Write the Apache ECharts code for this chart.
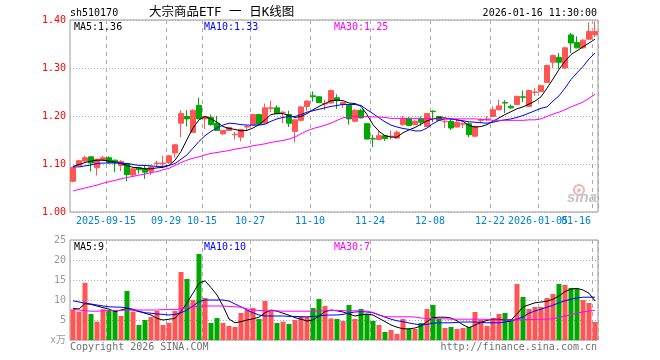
<!DOCTYPE html>
<html><head><meta charset="utf-8">
<script src="https://cdn.jsdelivr.net/npm/echarts@6/dist/echarts.min.js"></script>
<style>html,body{margin:0;padding:0;background:#fff}#c{width:660px;height:360px}</style>
</head><body><div id="c"></div>
<script>
const dates = [
'2025-09-05','2025-09-08','2025-09-09','2025-09-10','2025-09-11','2025-09-12','2025-09-15','2025-09-16','2025-09-17','2025-09-18',
'2025-09-19','2025-09-22','2025-09-23','2025-09-24','2025-09-25','2025-09-26','2025-09-29','2025-09-30','2025-10-09','2025-10-10',
'2025-10-13','2025-10-14','2025-10-15','2025-10-16','2025-10-17','2025-10-20','2025-10-21','2025-10-22','2025-10-23','2025-10-24',
'2025-10-27','2025-10-28','2025-10-29','2025-10-30','2025-10-31','2025-11-03','2025-11-04','2025-11-05','2025-11-06','2025-11-07',
'2025-11-10','2025-11-11','2025-11-12','2025-11-13','2025-11-14','2025-11-17','2025-11-18','2025-11-19','2025-11-20','2025-11-21',
'2025-11-24','2025-11-25','2025-11-26','2025-11-27','2025-11-28','2025-12-01','2025-12-02','2025-12-03','2025-12-04','2025-12-05',
'2025-12-08','2025-12-09','2025-12-10','2025-12-11','2025-12-12','2025-12-15','2025-12-16','2025-12-17','2025-12-18','2025-12-19',
'2025-12-22','2025-12-23','2025-12-24','2025-12-25','2025-12-26','2025-12-29','2025-12-30','2025-12-31','2026-01-05','2026-01-06',
'2026-01-07','2026-01-08','2026-01-09','2026-01-12','2026-01-13','2026-01-14','2026-01-15','2026-01-16'];

const open = [1.064,1.097,1.106,1.115,1.092,1.108,1.113,1.108,1.097,1.101, 1.077,1.092,1.090,1.085,1.101,1.101,1.103,1.123,1.185,1.199,
1.166,1.222,1.194,1.197,1.185,1.163,1.170,1.161,1.156,1.177, 1.182,1.203,1.185,1.216,1.217,1.207,1.203,1.168,1.191,1.220,
1.242,1.240,1.225,1.227,1.238,1.224,1.222,1.189,1.212,1.184, 1.153,1.151,1.159,1.157,1.154,1.182,1.195,1.182,1.194,1.178,
1.210,1.199,1.188,1.189,1.177,1.183,1.184,1.158,1.191,1.193, 1.199,1.213,1.228,1.220,1.224,1.240,1.220,1.249,1.251,1.270,
1.312,1.322,1.300,1.369,1.353,1.342,1.360,1.369];
const close = [1.093,1.107,1.113,1.102,1.110,1.113,1.103,1.103,1.105,1.078, 1.090,1.088,1.083,1.094,1.102,1.102,1.117,1.140,1.205,1.194,
1.212,1.194,1.199,1.182,1.170,1.170,1.176,1.162,1.172,1.178, 1.203,1.183,1.217,1.217,1.205,1.208,1.185,1.192,1.219,1.231,
1.240,1.228,1.226,1.253,1.232,1.228,1.194,1.212,1.196,1.152, 1.152,1.159,1.153,1.158,1.166,1.195,1.180,1.189,1.187,1.205,
1.209,1.191,1.189,1.175,1.187,1.184,1.161,1.178,1.192,1.194, 1.213,1.221,1.227,1.217,1.241,1.239,1.253,1.250,1.263,1.305,
1.326,1.312,1.342,1.352,1.342,1.358,1.376,1.376];
const low = [1.062,1.095,1.103,1.085,1.076,1.107,1.101,1.083,1.085,1.064, 1.075,1.080,1.069,1.077,1.095,1.095,1.100,1.113,1.156,1.178,
1.165,1.194,1.173,1.180,1.169,1.160,1.168,1.151,1.147,1.168, 1.181,1.182,1.184,1.208,1.204,1.185,1.177,1.145,1.189,1.211,
1.230,1.227,1.212,1.226,1.215,1.217,1.182,1.187,1.195,1.151, 1.135,1.150,1.148,1.151,1.152,1.180,1.179,1.181,1.180,1.177,
1.187,1.190,1.175,1.171,1.176,1.175,1.156,1.156,1.187,1.189, 1.198,1.212,1.206,1.215,1.223,1.229,1.219,1.242,1.250,1.269,
1.300,1.298,1.298,1.331,1.341,1.340,1.359,1.365];
const high = [1.095,1.109,1.117,1.116,1.111,1.117,1.116,1.109,1.108,1.102, 1.091,1.094,1.097,1.096,1.107,1.117,1.119,1.141,1.212,1.212,
1.214,1.238,1.200,1.203,1.200,1.171,1.178,1.167,1.173,1.182, 1.204,1.204,1.226,1.232,1.222,1.210,1.211,1.193,1.221,1.233,
1.251,1.241,1.234,1.255,1.245,1.230,1.223,1.214,1.215,1.185, 1.161,1.170,1.160,1.170,1.170,1.200,1.198,1.192,1.199,1.206,
1.212,1.200,1.192,1.194,1.194,1.187,1.187,1.180,1.195,1.200, 1.220,1.234,1.233,1.224,1.242,1.253,1.255,1.258,1.265,1.307,
1.328,1.331,1.344,1.373,1.366,1.360,1.395,1.397];

const ma5 = [1.095,1.099,1.103,1.106,1.108,1.108,1.106,1.104,1.101,1.097, 1.093,1.092,1.090,1.090,1.092,1.093,1.097,1.108,1.126,1.151,
1.175,1.192,1.199,1.194,1.187,1.178,1.174,1.172,1.169,1.170, 1.175,1.182,1.192,1.203,1.205,1.205,1.201,1.197,1.199,1.205,
1.213,1.220,1.226,1.232,1.233,1.232,1.227,1.226,1.220,1.203, 1.182,1.168,1.159,1.156,1.156,1.165,1.171,1.176,1.183,1.190,
1.194,1.196,1.196,1.194,1.192,1.189,1.180,1.177,1.178,1.182, 1.189,1.196,1.203,1.209,1.215,1.219,1.225,1.231,1.240,1.258,
1.277,1.297,1.314,1.328,1.336,1.344,1.352,1.360];
const ma10 = [1.094,1.094,1.096,1.098,1.101,1.102,1.102,1.102,1.102,1.101, 1.099,1.097,1.097,1.096,1.095,1.095,1.097,1.101,1.110,1.119,
1.133,1.147,1.159,1.168,1.175,1.181,1.185,1.184,1.182,1.181, 1.181,1.181,1.183,1.189,1.194,1.197,1.199,1.199,1.203,1.208,
1.211,1.214,1.217,1.220,1.222,1.224,1.224,1.224,1.222,1.213, 1.205,1.196,1.188,1.181,1.177,1.174,1.172,1.169,1.169,1.175,
1.184,1.191,1.194,1.194,1.192,1.190,1.188,1.187,1.186,1.185, 1.187,1.190,1.192,1.194,1.197,1.201,1.206,1.211,1.216,1.219,
1.231,1.242,1.258,1.276,1.290,1.303,1.319,1.331];
const ma30 = [1.044,1.047,1.050,1.053,1.056,1.060,1.063,1.066,1.069,1.072, 1.074,1.077,1.079,1.082,1.084,1.088,1.091,1.097,1.103,1.108,
1.112,1.115,1.119,1.122,1.124,1.126,1.128,1.131,1.133,1.135, 1.138,1.140,1.142,1.145,1.147,1.149,1.152,1.156,1.163,1.169,
1.174,1.177,1.181,1.185,1.191,1.196,1.199,1.199,1.199,1.199, 1.198,1.198,1.197,1.195,1.195,1.195,1.195,1.195,1.195,1.195,
1.194,1.194,1.194,1.194,1.194,1.194,1.194,1.194,1.193,1.192, 1.191,1.191,1.191,1.191,1.191,1.191,1.192,1.192,1.194,1.199,
1.204,1.208,1.213,1.219,1.224,1.229,1.237,1.245];

const vol = [7.7,7.1,14.3,6.5,4.6,7.7,7.5,7.25,6.0,12.25, 7.1,3.75,5.0,5.75,7.25,3.75,4.3,7.25,17.0,15.25,
10.0,21.5,10.5,4.25,5.5,4.25,3.5,3.25,6.75,7.5, 8.0,5.25,9.75,7.25,4.25,4.6,4.0,5.0,6.0,5.75,
8.0,10.25,8.5,5.4,5.25,4.75,8.75,5.25,7.75,6.5, 4.75,3.75,2.0,2.5,1.5,5.25,2.75,2.75,4.25,7.75,
8.75,5.25,3.0,3.25,2.75,3.0,3.25,7.0,5.0,3.5, 5.5,6.5,6.75,5.25,14.0,10.75,7.75,8.25,8.25,10.5,
11.5,14.0,13.75,13.0,12.75,10.0,9.25,4.5];
const vma5 = [7.9,7.75,9.1,8.9,8.5,8.1,7.7,7.1,7.5,7.9, 7.5,7.1,6.7,6.25,5.4,5.0,5.2,5.4,7.1,9.3,
11.7,14.2,14.8,13.1,11.25,8.5,5.25,4.3,4.6,5.0, 5.3,5.7,6.8,7.5,7.2,6.7,6.2,5.6,5.2,4.75,
5.0,6.0,7.1,7.5,7.3,7.0,6.5,6.0,6.3,6.5, 6.25,5.4,4.6,3.75,3.2,2.8,2.8,3.0,3.5,4.6,
5.6,5.7,5.7,5.5,4.8,3.8,3.1,3.7,4.4,4.9, 5.2,5.2,5.0,5.0,6.5,8.3,8.8,9.3,9.5,9.7,
10.2,11.0,12.1,12.75,12.9,12.5,11.7,9.75];
const vma10 = [9.8,9.5,9.2,9.0,8.75,8.5,8.3,8.25,8.2,8.0, 7.7,7.2,6.8,6.7,6.5,6.4,6.25,6.4,6.8,7.5,
8.5,9.6,10.0,10.0,10.0,10.0,9.75,9.0,8.3,7.5, 6.8,6.25,6.0,6.0,6.0,6.0,5.9,5.9,5.8,5.8,
5.9,6.0,6.2,6.25,6.25,6.4,6.75,7.0,7.1,7.0, 6.8,6.25,5.7,5.2,4.8,4.6,4.25,4.0,3.75,3.9,
4.2,4.3,4.3,4.3,4.4,4.5,4.5,4.5,4.4,4.3, 4.3,4.3,4.5,4.75,5.2,5.8,6.7,7.25,7.7,8.2,
8.7,9.3,9.8,10.2,10.5,10.7,10.7,10.7];
const vma30 = [7.7,7.5,7.3,7.2,7.2,7.3,7.4,7.4,7.4,7.5, 7.5,7.5,7.5,7.5,7.5,7.6,7.6,7.6,7.8,8.1,
8.3,8.4,8.5,8.5,8.5,8.5,8.4,8.3,8.2,7.8, 7.5,7.4,7.3,7.3,7.3,7.2,7.2,7.2,7.2,7.2,
7.2,7.25,7.3,7.35,7.4,7.35,7.3,7.3,7.3,7.2, 6.9,6.3,5.85,5.8,5.8,5.8,5.8,5.75,5.5,5.4,
5.4,5.3,5.3,5.2,5.2,5.2,5.2,5.2,5.2,5.15, 5.0,5.0,5.0,5.0,5.0,5.1,5.1,5.15,5.2,5.2,
5.3,5.7,6.0,6.3,6.7,7.0,7.25,7.4];

const tickDates = ['2025-09-15','2025-09-29','2025-10-15','2025-10-27','2025-11-10','2025-11-24','2025-12-08','2025-12-22','2026-01-05','2026-01-16'];
const tickLabels = ['2025-09-15','09-29','10-15','10-27','11-10','11-24','12-08','12-22','2026-01-05','01-16'];
const priceTicks = [1.0, 1.4, 0.1];
const volTicks = [0, 25, 5];

const title = 'sh510170';
const titleName = '大宗商品ETF 一 日K线图';
const timeStamp = '2026-01-16 11:30:00';
const priceMaLabels = ['MA5:1.36', 'MA10:1.33', 'MA30:1.25'];
const volMaLabels = ['MA5:9', 'MA10:10', 'MA30:7'];

const MONO = '"DejaVu Sans Mono", "Noto Sans CJK SC", monospace';
const RED = '#ff5555', GREEN = '#00a800';
const MA_COLORS = ['#000000', '#0000ff', '#ff00ff'];
const tickSet = new Set(tickDates.map(d => dates.indexOf(d)));
const isTick = (i) => tickSet.has(i);
const lastIdx = dates.length - 1;

const splitV = {show: true, interval: (i) => isTick(i), lineStyle: {color: '#aaaaaa', width: 1, type: [4, 4]}};
const splitH = {show: true, lineStyle: {color: '#aaaaaa', width: 1, type: [1, 2]}};

function txt(text, x, y, color, font, align) {
  return {type: 'text', silent: true, z: 100,
    style: {text: text, x: x, y: y, fill: color, font: font,
      align: align || 'left', textAlign: align || 'left', verticalAlign: 'middle', textVerticalAlign: 'middle'}};
}

const lineSeries = (data, color, xi, yi) => ({type: 'line', data: data, xAxisIndex: xi, yAxisIndex: yi,
  symbol: 'none', smooth: false, lineStyle: {color: color, width: 1}, itemStyle: {color: color}, z: 5, silent: true});

const labelRich = {
  a: {padding: [0, 6, 0, 0], color: '#0082d2', fontFamily: MONO, fontSize: 10},
  b: {padding: [0, 38, 0, 0], color: '#0082d2', fontFamily: MONO, fontSize: 10}
};
const labelFormatter = (v) => {
  const k = tickDates.indexOf(v);
  if (k < 0) return '';
  return (dates.indexOf(v) === lastIdx ? '{b|' : '{a|') + tickLabels[k] + '}';
};

const option = {
  animation: false,
  backgroundColor: '#ffffff',
  grid: [
    {left: 70, top: 20, width: 528, height: 192, show: true, borderColor: '#999999', borderWidth: 1, backgroundColor: 'transparent'},
    {left: 70, top: 240, width: 528, height: 100, show: true, borderColor: '#999999', borderWidth: 1, backgroundColor: 'transparent'}
  ],
  xAxis: [
    {type: 'category', gridIndex: 0, position: 'bottom', data: dates, boundaryGap: true,
      axisLine: {show: false}, axisTick: {show: false},
      axisLabel: {show: true, interval: (i) => isTick(i) && i !== lastIdx,
        margin: 4, color: '#0082d2', fontFamily: MONO, fontSize: 10, formatter: labelFormatter, rich: labelRich},
      splitLine: splitV},
    {type: 'category', gridIndex: 1, position: 'bottom', data: dates, boundaryGap: true,
      axisLine: {show: false}, axisTick: {show: false}, axisLabel: {show: false},
      splitLine: splitV},
    {type: 'category', gridIndex: 0, position: 'bottom', data: dates, boundaryGap: true,
      axisLine: {show: false}, axisTick: {show: false}, splitLine: {show: false},
      axisLabel: {show: true, interval: (i) => i === lastIdx, showMaxLabel: true,
        margin: 4, color: '#0082d2', fontFamily: MONO, fontSize: 10, formatter: labelFormatter, rich: labelRich}}
  ],
  yAxis: [
    {type: 'value', gridIndex: 0, min: priceTicks[0], max: priceTicks[1], interval: priceTicks[2],
      axisLine: {show: false}, axisTick: {show: false},
      axisLabel: {color: '#ff0000', fontFamily: MONO, fontSize: 10, margin: 4, formatter: v => v.toFixed(2)},
      splitLine: splitH},
    {type: 'value', gridIndex: 1, min: volTicks[0], max: volTicks[1], interval: volTicks[2],
      axisLine: {show: false}, axisTick: {show: false},
      axisLabel: {color: '#999999', fontFamily: MONO, fontSize: 10, margin: 4, formatter: v => (v === 0 ? 'x万' : String(v))},
      splitLine: splitH}
  ],
  series: [
    {type: 'candlestick', xAxisIndex: 0, yAxisIndex: 0, barWidth: 5, silent: true, z: 3,
      data: dates.map((d, i) => [open[i], close[i], low[i], high[i]]),
      itemStyle: {color: RED, color0: GREEN, borderColor: RED, borderColor0: GREEN, borderWidth: 1}},
    lineSeries(ma5, MA_COLORS[0], 0, 0),
    lineSeries(ma10, MA_COLORS[1], 0, 0),
    lineSeries(ma30, MA_COLORS[2], 0, 0),
    {type: 'bar', xAxisIndex: 1, yAxisIndex: 1, barWidth: 5, silent: true, z: 3,
      data: vol.map((v, i) => ({value: v, itemStyle: {color: close[i] >= open[i] ? RED : GREEN}}))},
    lineSeries(vma5, MA_COLORS[0], 1, 1),
    lineSeries(vma10, MA_COLORS[1], 1, 1),
    lineSeries(vma30, MA_COLORS[2], 1, 1)
  ],
  graphic: [
    txt(title, 70, 13, '#000', '10px ' + MONO),
    txt(titleName, 149, 13, '#000', '12.5px "DejaVu Sans Mono", "Noto Sans CJK SC", sans-serif'),
    txt(timeStamp, 597, 13, '#000', '10px ' + MONO, 'right'),
    txt(priceMaLabels[0], 74, 27, MA_COLORS[0], '10px ' + MONO),
    txt(priceMaLabels[1], 204, 27, MA_COLORS[1], '10px ' + MONO),
    txt(priceMaLabels[2], 334, 27, MA_COLORS[2], '10px ' + MONO),
    txt(volMaLabels[0], 74, 247, MA_COLORS[0], '10px ' + MONO),
    txt(volMaLabels[1], 204, 247, MA_COLORS[1], '10px ' + MONO),
    txt(volMaLabels[2], 334, 247, MA_COLORS[2], '10px ' + MONO),
    txt('Copyright 2026 SINA.COM', 70, 347, '#707070', '10px ' + MONO),
    txt('http://finance.sina.com.cn', 597, 347, '#707070', '10px ' + MONO, 'right'),
    {type: 'circle', silent: true, z: 1, shape: {cx: 579, cy: 190, r: 5}, style: {fill: 'none', stroke: '#f4b0b0', lineWidth: 2}},
    {type: 'circle', silent: true, z: 1, shape: {cx: 579, cy: 190, r: 1.8}, style: {fill: '#f4b0b0'}},
    {type: 'text', silent: true, z: 1, style: {text: 'sina', x: 567, y: 198, fill: '#c4c4c4',
      font: 'italic bold 15px "Liberation Sans", sans-serif', verticalAlign: 'middle', textVerticalAlign: 'middle'}}
  ]
};

const chart = echarts.init(document.getElementById('c'), null, {renderer: 'canvas'});
chart.setOption(option);
</script>
</body></html>
